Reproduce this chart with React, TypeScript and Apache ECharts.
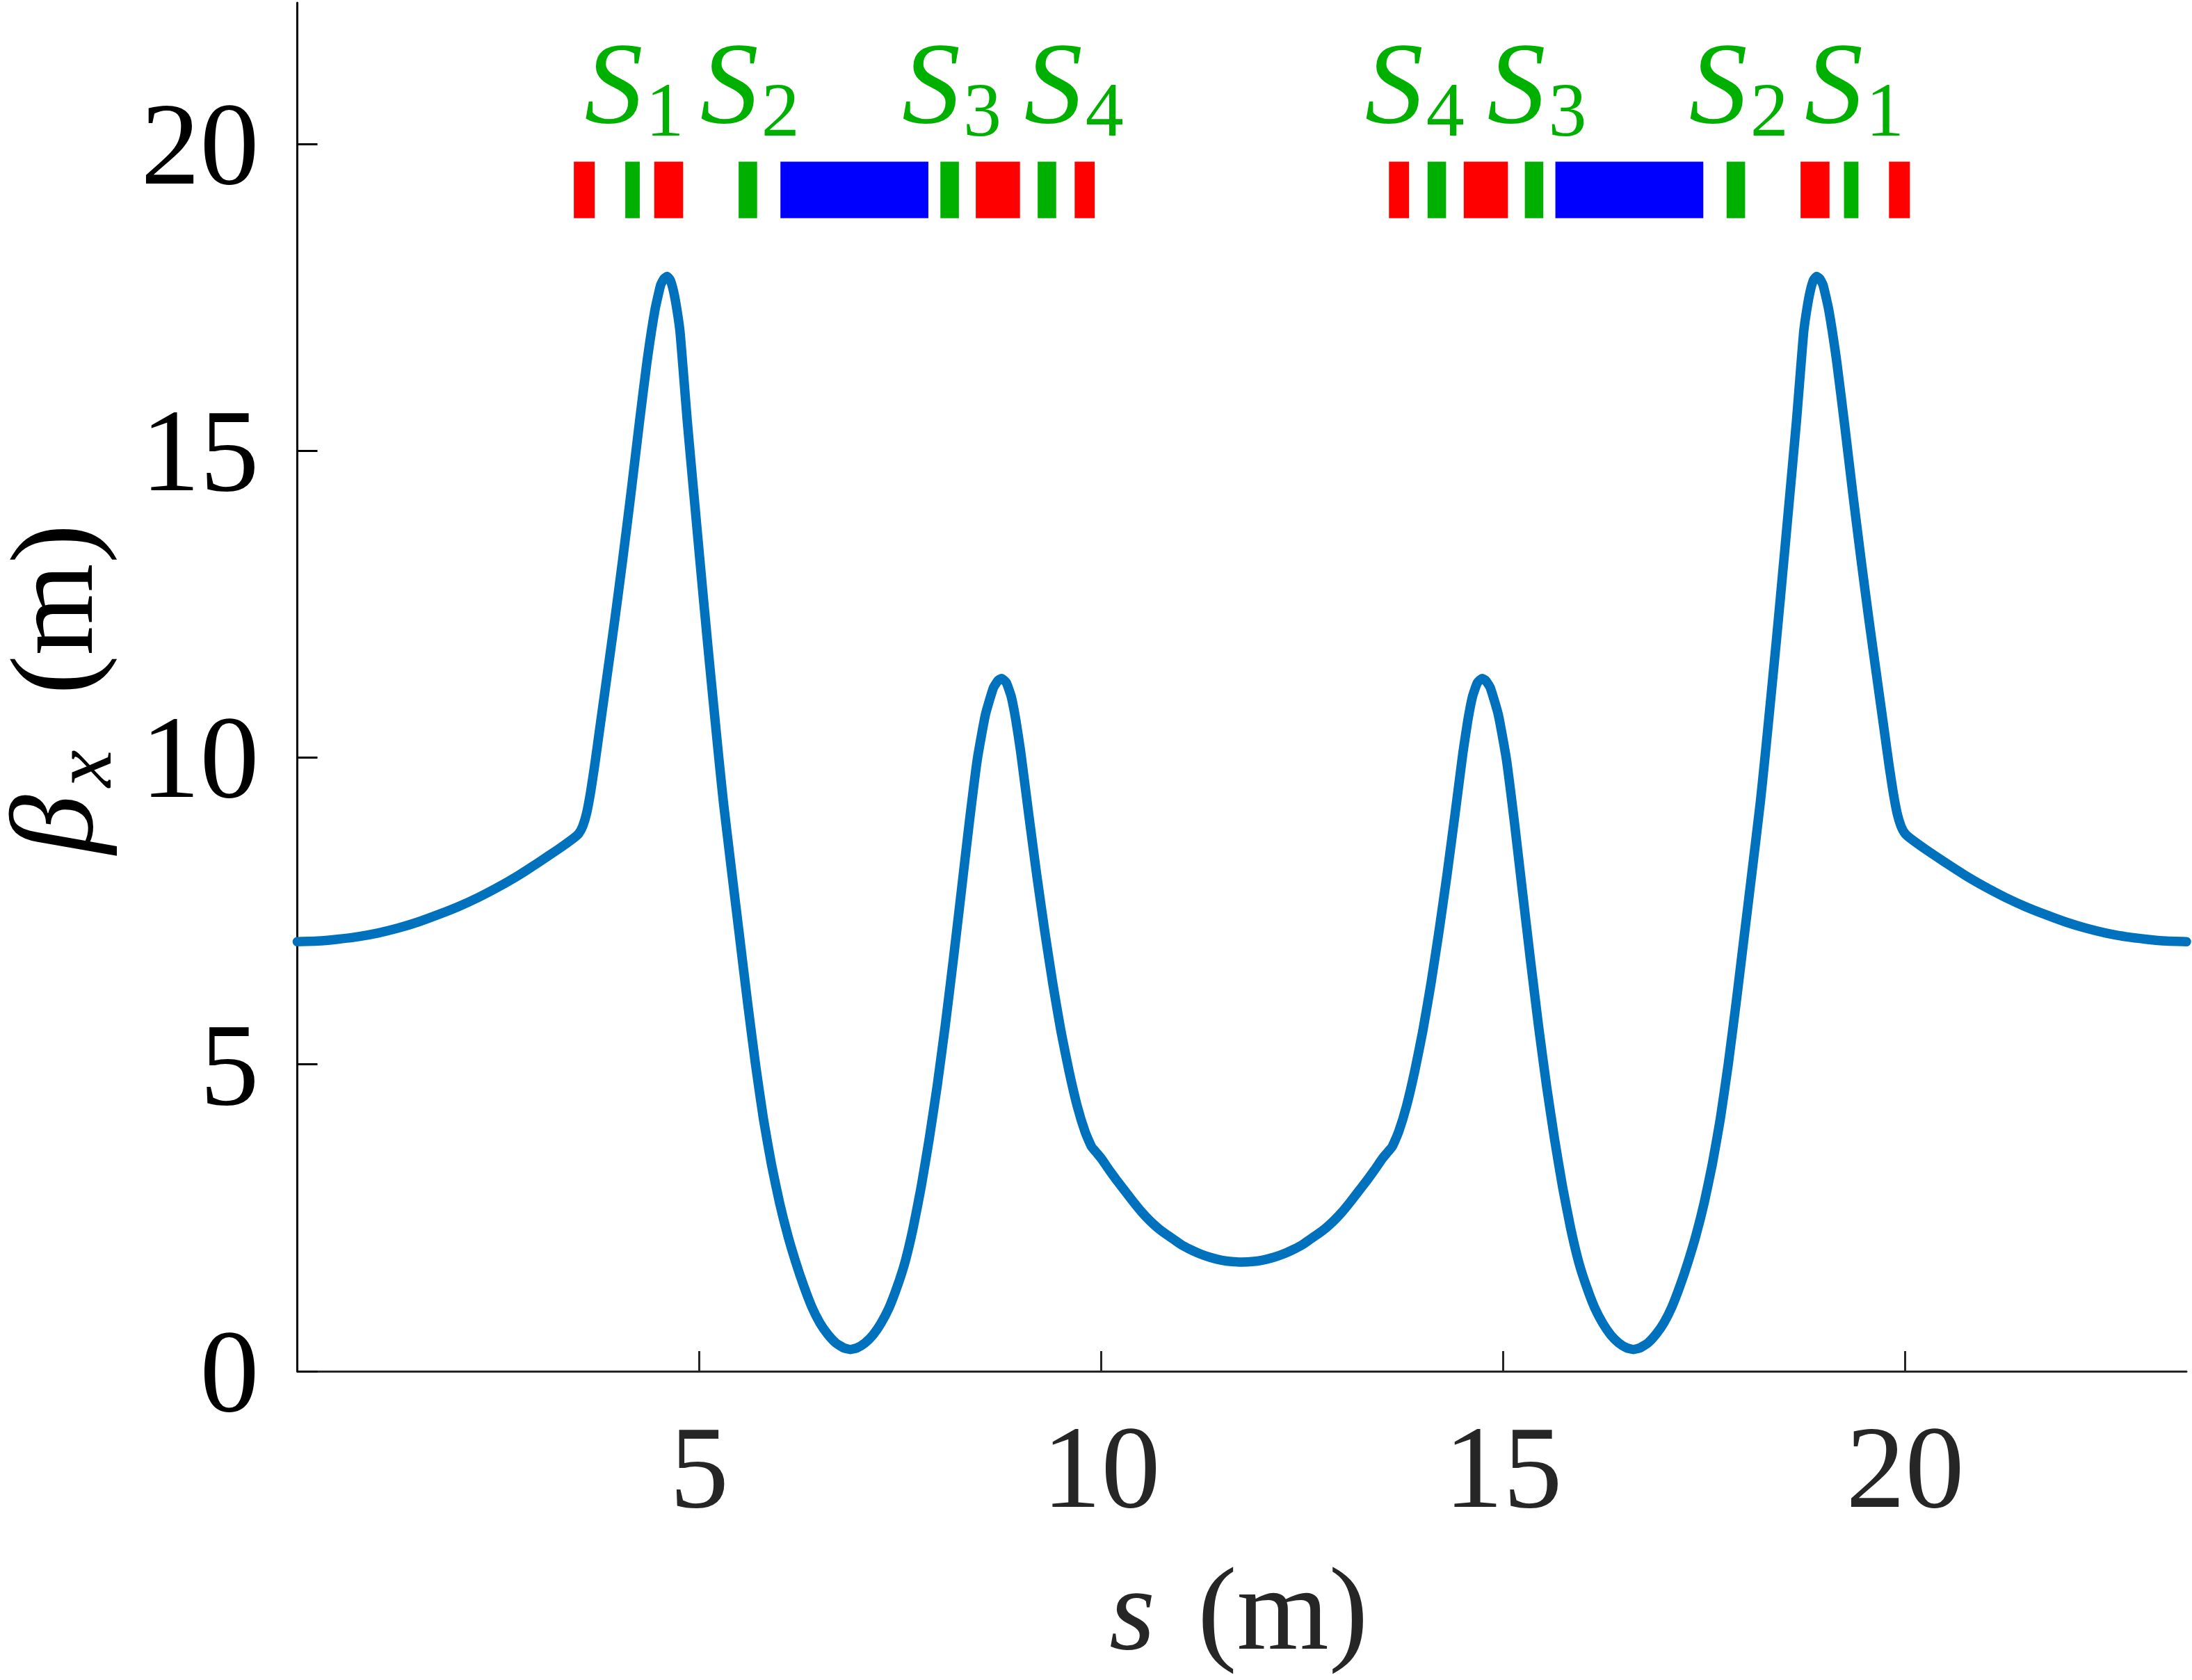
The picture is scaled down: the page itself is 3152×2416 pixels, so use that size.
import React, { useEffect, useRef } from "react";
import * as echarts from "echarts";

// beta_x (m) against s (m): [s, beta_x]
const betaLeft: [number, number][] = [
  [0.0, 7.0], [0.25, 7.01], [0.5, 7.04], [0.75, 7.08], [1.0, 7.14], [1.25, 7.22], [1.5, 7.32], [1.75, 7.44],
  [2.0, 7.57], [2.25, 7.72], [2.5, 7.89], [2.75, 8.08], [3.0, 8.29], [3.25, 8.51], [3.44, 8.69], [3.5, 8.76],
  [3.55, 8.88], [3.6, 9.1], [3.65, 9.45], [3.7, 9.88], [3.76, 10.45], [3.85, 11.3], [3.95, 12.25], [4.05, 13.25],
  [4.15, 14.3], [4.25, 15.4], [4.35, 16.45], [4.45, 17.3], [4.52, 17.7], [4.56, 17.8], [4.6, 17.84], [4.64, 17.78],
  [4.68, 17.6], [4.72, 17.32], [4.76, 16.95], [4.8, 16.32], [4.85, 15.5], [4.9, 14.77], [4.95, 14.05], [5.0, 13.33],
  [5.05, 12.62], [5.1, 11.92], [5.15, 11.24], [5.2, 10.57], [5.25, 9.91], [5.3, 9.28], [5.4, 8.18], [5.5, 7.1],
  [5.6, 6.02], [5.7, 5.0], [5.8, 4.1], [5.9, 3.36], [6.0, 2.74], [6.1, 2.22], [6.2, 1.78], [6.3, 1.39],
  [6.4, 1.05], [6.5, 0.79], [6.6, 0.6], [6.7, 0.46], [6.8, 0.38], [6.88, 0.355], [6.96, 0.38], [7.06, 0.46],
  [7.16, 0.59], [7.26, 0.78], [7.36, 1.03], [7.46, 1.37], [7.56, 1.78], [7.66, 2.33], [7.76, 3.0], [7.86, 3.78],
  [7.96, 4.65], [8.06, 5.63], [8.16, 6.7], [8.26, 7.82], [8.36, 8.95], [8.46, 9.98], [8.56, 10.7], [8.66, 11.14],
  [8.72, 11.26], [8.76, 11.29], [8.82, 11.22], [8.88, 11.0], [8.94, 10.6], [9.0, 10.08], [9.1, 9.06], [9.2, 8.07],
  [9.3, 7.15], [9.4, 6.3], [9.5, 5.54], [9.6, 4.89], [9.7, 4.33], [9.8, 3.9], [9.88, 3.66], [9.95, 3.55],
  [10.0, 3.47], [10.1, 3.28], [10.2, 3.1], [10.3, 2.93], [10.4, 2.76], [10.5, 2.6], [10.6, 2.46], [10.7, 2.34],
  [10.8, 2.24], [10.9, 2.15], [11.0, 2.06], [11.1, 1.99], [11.2, 1.93], [11.3, 1.88], [11.4, 1.84], [11.5, 1.81],
  [11.6, 1.79], [11.75, 1.78],
];
const betaRight: [number, number][] = [
  [11.9, 1.79], [12.0, 1.81], [12.1, 1.84], [12.2, 1.88], [12.3, 1.93], [12.4, 1.99], [12.5, 2.06], [12.6, 2.15],
  [12.7, 2.24], [12.8, 2.34], [12.9, 2.46], [13.0, 2.6], [13.1, 2.76], [13.2, 2.93], [13.3, 3.1], [13.4, 3.28],
  [13.5, 3.47], [13.55, 3.55], [13.62, 3.66], [13.7, 3.9], [13.8, 4.33], [13.9, 4.89], [14.0, 5.54], [14.1, 6.3],
  [14.2, 7.15], [14.3, 8.07], [14.4, 9.06], [14.5, 10.08], [14.56, 10.6], [14.62, 11.0], [14.68, 11.22], [14.74, 11.29],
  [14.78, 11.26], [14.84, 11.14], [14.94, 10.7], [15.04, 9.98], [15.14, 8.95], [15.24, 7.82], [15.34, 6.7], [15.44, 5.63],
  [15.54, 4.65], [15.64, 3.78], [15.74, 3.0], [15.84, 2.33], [15.94, 1.78], [16.04, 1.37], [16.14, 1.03], [16.24, 0.78],
  [16.34, 0.59], [16.44, 0.46], [16.54, 0.38], [16.62, 0.355], [16.7, 0.38], [16.8, 0.46], [16.9, 0.6], [17.0, 0.79],
  [17.1, 1.05], [17.2, 1.39], [17.3, 1.78], [17.4, 2.22], [17.5, 2.74], [17.6, 3.36], [17.7, 4.1], [17.8, 5.0],
  [17.9, 6.02], [18.0, 7.1], [18.1, 8.18], [18.2, 9.28], [18.25, 9.91], [18.3, 10.57], [18.35, 11.24], [18.4, 11.92],
  [18.45, 12.62], [18.5, 13.33], [18.55, 14.05], [18.6, 14.77], [18.65, 15.5], [18.7, 16.32], [18.74, 16.95], [18.78, 17.32],
  [18.82, 17.6], [18.86, 17.78], [18.9, 17.84], [18.94, 17.8], [18.98, 17.7], [19.05, 17.3], [19.15, 16.45], [19.25, 15.4],
  [19.35, 14.3], [19.45, 13.25], [19.55, 12.25], [19.65, 11.3], [19.74, 10.45], [19.8, 9.88], [19.85, 9.45], [19.9, 9.1],
  [19.95, 8.88], [20.0, 8.76], [20.06, 8.69], [20.25, 8.51], [20.5, 8.29], [20.75, 8.08], [21.0, 7.89], [21.25, 7.72],
  [21.5, 7.57], [21.75, 7.44], [22.0, 7.32], [22.25, 7.22], [22.5, 7.14], [22.75, 7.08], [23.0, 7.04], [23.25, 7.01],
  [23.5, 7.0],
];

// lattice elements: Q = quadrupole (red), S = sextupole (green), B = dipole (blue)
const elementStart = [3.44, 4.08, 4.44, 5.49, 6.01, 8.0, 8.44, 9.21, 9.67, 13.58, 14.06, 14.51, 15.27, 15.65, 17.78, 18.7, 19.24, 19.8];
const elementEnd = [3.7, 4.26, 4.8, 5.72, 7.85, 8.23, 8.99, 9.44, 9.92, 13.83, 14.29, 15.06, 15.5, 17.49, 18.01, 19.06, 19.42, 20.06];
const elementKind = ["Q", "S", "Q", "S", "B", "S", "Q", "S", "Q", "Q", "S", "Q", "S", "B", "S", "Q", "S", "Q"];
const elementBottom = 18.79;
const elementTop = 19.71;

// sextupole family labels
const labelCenters = [4.16, 5.6, 8.11, 9.63, 13.87, 15.39, 17.9, 19.34];
const labelSubscripts = ["1", "2", "3", "4", "4", "3", "2", "1"];
const labelBaseline = 20.36;

const xTicks = [5, 10, 15, 20];
const yTicks = [0, 5, 10, 15, 20];

const FONT = "'Liberation Serif', 'Times New Roman', serif";
const GREEN = "#00B000";
const kindColor: Record<string, string> = { Q: "#FF0000", S: GREEN, B: "#0000FF" };

export default function App() {
  const ref = useRef<HTMLDivElement>(null);

  useEffect(() => {
    if (!ref.current) return;
    const chart = echarts.init(ref.current, undefined, { renderer: "svg" });

    const curve = betaLeft.concat(betaRight);
    const elements = elementStart.map((s, i) => [s, elementEnd[i], i]);
    const labels = labelCenters.map((c, i) => [c, i]);

    const C = 0.3375; // central-baseline offset of the font (em)

    const txt = (text: string, x: number, y: number, size: number, italic: boolean, fill: string) => ({
      type: "text",
      x,
      y,
      silent: true,
      style: {
        text,
        fontFamily: FONT,
        fontStyle: italic ? "italic" : "normal",
        fontSize: size,
        lineHeight: Math.round(size * 0.7),
        fill,
        textAlign: "left",
        textVerticalAlign: "middle",
        align: "left",
        verticalAlign: "middle",
      },
    });

    chart.setOption({
      animation: false,
      backgroundColor: "#ffffff",
      grid: {
        left: 427.5,
        right: 8,
        top: 4,
        bottom: 444,
        containLabel: false,
        outerBoundsMode: "none",
      },
      xAxis: {
        type: "value",
        min: 0,
        max: 23.5,
        interval: 5,
        splitLine: { show: false },
        axisLine: { show: true, onZero: false, lineStyle: { color: "#262626", width: 3 } },
        axisTick: { show: true, inside: true, length: 29, customValues: xTicks, lineStyle: { color: "#262626", width: 3 } },
        axisLabel: {
          show: true,
          customValues: xTicks,
          margin: 53,
          color: "#262626",
          fontFamily: FONT,
          fontSize: 170,
        },
      },
      yAxis: {
        type: "value",
        min: 0,
        max: 22.3,
        interval: 5,
        splitLine: { show: false },
        axisLine: { show: true, onZero: false, lineStyle: { color: "#000000", width: 3 } },
        axisTick: { show: true, inside: true, length: 29, customValues: yTicks, lineStyle: { color: "#000000", width: 3 } },
        axisLabel: {
          show: true,
          customValues: yTicks,
          margin: 55,
          color: "#000000",
          fontFamily: FONT,
          fontSize: 170,
          padding: [0, 0, 34, 0],
        },
      },
      series: [
        {
          type: "custom",
          silent: true,
          clip: false,
          z: 1,
          encode: { x: [0, 1] },
          data: elements,
          renderItem: (params: any, api: any) => {
            const idx = api.value(2);
            const p0 = api.coord([api.value(0), elementTop]);
            const p1 = api.coord([api.value(1), elementBottom]);
            return {
              type: "rect",
              shape: { x: p0[0], y: p0[1], width: p1[0] - p0[0], height: p1[1] - p0[1] },
              style: { fill: kindColor[elementKind[idx]] },
            };
          },
        },
        {
          type: "custom",
          silent: true,
          clip: false,
          z: 1,
          encode: { x: 0 },
          data: labels,
          renderItem: (params: any, api: any) => {
            const p = api.coord([api.value(0), labelBaseline]);
            const sub = labelSubscripts[api.value(1)];
            return {
              type: "group",
              children: [
                {
                  type: "text",
                  x: p[0] - 68,
                  y: p[1] - C * 168,
                  style: {
                    text: "S",
                    fontFamily: FONT,
                    fontStyle: "italic",
                    fontSize: 168,
                    fill: GREEN,
                    align: "left",
                    verticalAlign: "middle",
                  },
                },
                {
                  type: "text",
                  x: p[0] + 20,
                  y: p[1] + 20 - C * 110,
                  style: {
                    text: sub,
                    fontFamily: FONT,
                    fontSize: 110,
                    fill: GREEN,
                    align: "left",
                    verticalAlign: "middle",
                  },
                },
              ],
            };
          },
        },
        {
          type: "line",
          data: curve,
          showSymbol: false,
          symbol: "none",
          smooth: 0.15,
          z: 3,
          lineStyle: { color: "#0072BD", width: 13.5, cap: "round", join: "round" },
        },
      ],
      graphic: [
        {
          type: "group",
          x: 132,
          y: 1228,
          rotation: Math.PI / 2,
          silent: true,
          children: [
            txt("β", 0, -C * 170, 170, true, "#000000"),
            txt("x", 96, 27 - C * 120, 120, true, "#000000"),
            txt("(m)", 229, -C * 170, 170, false, "#000000"),
          ],
        },
        txt("s", 1595, 2371 - C * 170, 170, true, "#262626"),
        txt("(m)", 1722, 2371 - C * 170, 170, false, "#262626"),
      ],
    });

    return () => {
      chart.dispose();
    };
  }, []);

  return (
    <div
      ref={ref}
      style={{ position: "absolute", left: 0, top: 0, width: 3152, height: 2416, background: "#ffffff" }}
    />
  );
}
